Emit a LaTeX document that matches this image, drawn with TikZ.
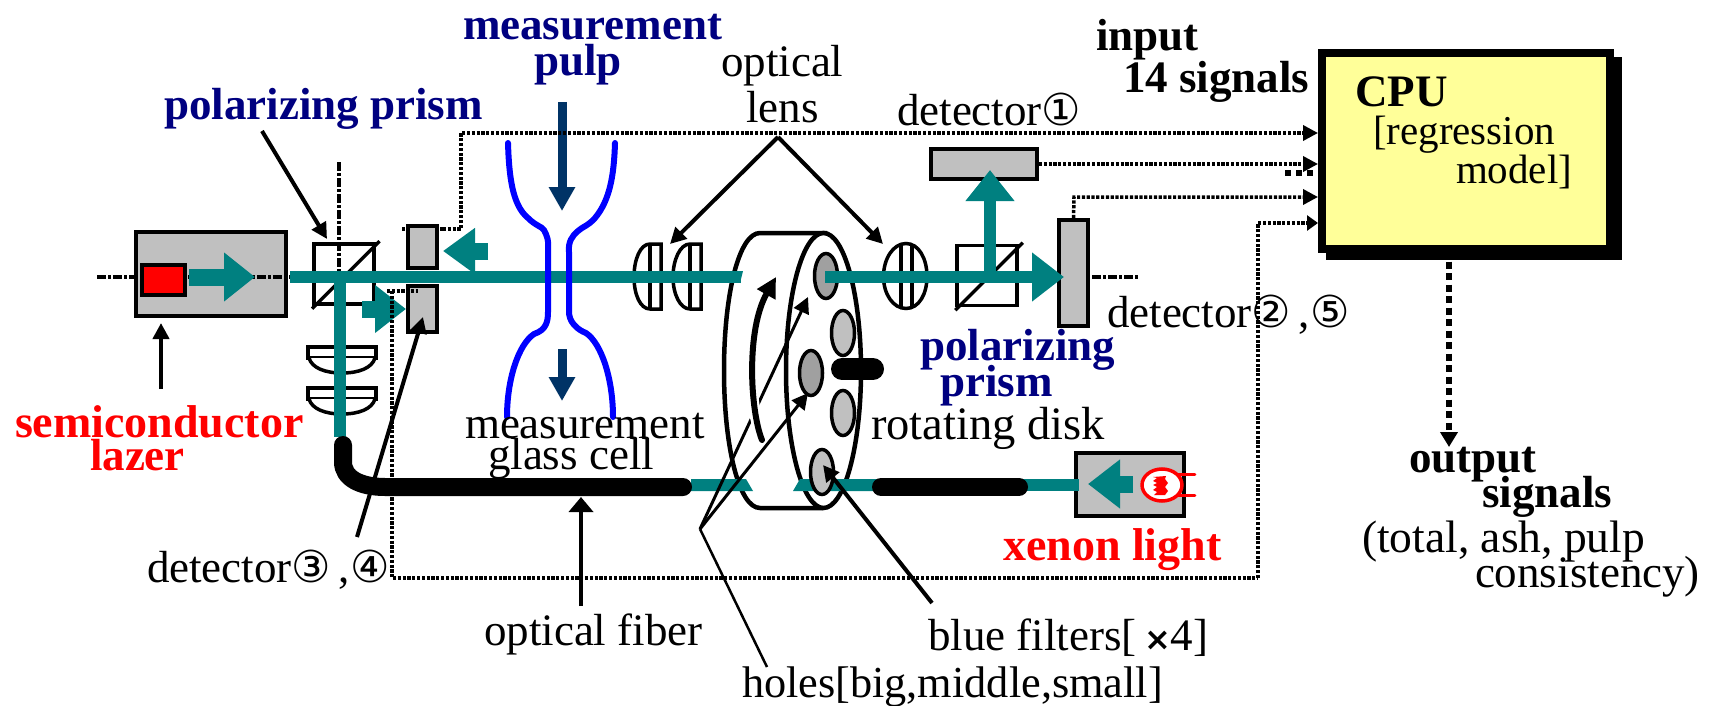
\documentclass[tikz,border=0pt]{standalone}
\usepackage{xcolor}
\usepackage{fontspec}
\setmainfont{Liberation Serif}
\newfontfamily\symfont{DejaVu Sans}
\newcommand{\circled}[1]{{\symfont\fontsize{44}{44}\selectfont #1}}
\usepackage{tikz}
\usetikzlibrary{arrows.meta,positioning,shapes.geometric,calc}
\definecolor{beamteal}{RGB}{0,128,128}
\definecolor{panelgray}{RGB}{192,192,192}
\definecolor{holegray}{RGB}{160,160,160}
\definecolor{titleblue}{RGB}{0,0,128}
\definecolor{pulpblue}{RGB}{0,51,102}
\definecolor{cpuyellow}{RGB}{255,255,153}

\begin{document}
\begin{tikzpicture}[x=1pt,y=-1pt,
lbl/.style={anchor=base west, inner sep=0pt, outer sep=0pt, font=\fontsize{45}{45}\selectfont},
lblbold/.style={lbl, font=\fontsize{45}{45}\selectfont\bfseries},
navylbl/.style={lblbold, text=titleblue},
redlbl/.style={lblbold, text=red},
graybox/.style={draw, line width=4pt, fill=panelgray, inner sep=0pt},
prismbox/.style={draw, line width=3.5pt, fill=white, inner sep=0pt, minimum size=60pt},
lens/.style={draw, line width=3.5pt, fill=white},
hole/.style={draw, ellipse, line width=3.5pt, inner sep=0pt, minimum width=23pt, minimum height=45pt, fill=panelgray},
axisline/.style={line width=3.5pt, dash pattern=on 9pt off 2pt on 3pt off 2pt},
dotline/.style={line width=3.5pt, dash pattern=on 3.2pt off 1.6pt},
sigarrow/.style={dotline, -{Triangle[length=15pt,width=15pt]}},
callout/.style={line width=4pt, -{Triangle[length=16pt,width=16pt]}},
beam/.style={line width=12pt, color=beamteal},
beamarrow/.style={line width=17pt, color=beamteal, -{Triangle[length=31pt,width=47pt]}},
fibre/.style={line width=18pt, line cap=round},
pulparrow/.style={line width=9pt, color=pulpblue, -{Triangle[length=24pt,width=25pt]}},
cell/.style={line width=6pt, color=blue, line cap=round, line join=round}
]
\useasboundingbox (0,0) rectangle (1713,706);

% light source and first prism
\coordinate (sigCw) at (402,229);
\coordinate (sigCa) at (443,229);
\draw[dotline] (sigCw) -- (sigCa);
\node[graybox, minimum width=150pt, minimum height=84pt] (laser) at (211,274) {};
\node[prismbox, right=24pt of laser] (prismL) {};
\node[graybox, minimum width=29pt, minimum height=42pt] (detC) at (422.5,247) {};
\node[graybox, minimum width=29pt, minimum height=46pt, below=14pt of detC] (detD) {};
\coordinate (axisW) at (97,277);
\coordinate (axisE) at (290,277);
\coordinate (axisN) at (339,162);
\coordinate (axisS) at (339,272);
\draw[axisline] (axisW) -- (axisE);
\draw[axisline] (axisN) -- (axisS);
\draw[line width=3.5pt] ($(prismL.south west)+(0,3)$) -- ($(prismL.north east)+(4,-1)$);
\node[draw, line width=4pt, fill=red, inner sep=0pt, minimum width=43pt, minimum height=30pt] (diode) at (163,279.5) {};

% lenses
\draw[lens] (308,347) -- (376,347) -- (376,358) -- (308,358) -- cycle;
\draw[lens] (309,358) .. controls (312,368) and (325,373) .. (342,373) .. controls (359,373) and (372,368) .. (375,358);
\draw[lens] (308,388) -- (376,388) -- (376,399) -- (308,399) -- cycle;
\draw[lens] (309,399) .. controls (312,409) and (325,414) .. (342,414) .. controls (359,414) and (372,409) .. (375,399);
\draw[lens] (661,244) -- (650,244) .. controls (640,244) and (634,260) .. (634,277) .. controls (634,294) and (640,309) .. (650,309) -- (661,309) -- cycle;
\draw[line width=3.5pt] (650,244) -- (650,309);
\draw[lens] (701,244) -- (690,244) .. controls (680,244) and (673,260) .. (673,277) .. controls (673,294) and (680,309) .. (690,309) -- (701,309) -- cycle;
\draw[line width=3.5pt] (690,244) -- (690,309);

% rotating disk
\draw[line width=4.5pt, fill=white] (827,233) -- (760,233) .. controls (739,233) and (724,294) .. (724,370.5) .. controls (724,447) and (739,508) .. (760,508) -- (823,508);
\node[draw, ellipse, line width=4.5pt, fill=white, inner sep=0pt, minimum width=75pt, minimum height=275pt] (disk) at (823.5,370.5) {};
\fill[beamteal] (691,479) -- (746,479) -- (753,491) -- (691,491) -- cycle;
\fill[beamteal] (800,479) -- (793,491) -- (877,491) -- (877,479) -- cycle;
\node[hole, fill=holegray] (holeA) at (826,276) {};
\node[hole] (holeB) at (843,333) {};
\node[hole, fill=holegray] (holeC) at (811,373) {};
\node[hole] (holeD) at (843,413) {};
\node[hole] (holeE) at (822,472) {};
\coordinate (pillW) at (842,369);
\coordinate (pillE) at (873,369);
\draw[line width=22pt, line cap=round] (pillW) -- (pillE);

% right hand optics
\draw[lens] (906,243.5) .. controls (893,243.5) and (883.5,259) .. (883.5,276.5) .. controls (883.5,294) and (893,308.5) .. (906,308.5) .. controls (919,308.5) and (927,294) .. (927,276.5) .. controls (927,259) and (919,243.5) .. (906,243.5) -- cycle;
\draw[line width=3.5pt] (901,244) -- (901,308) (912,244) -- (912,308);
\node[prismbox, minimum size=60pt] (prismR) at (987,275.5) {};
\draw[line width=3.5pt] ($(prismR.south west)+(0,3)$) -- ($(prismR.north east)+(4,-1)$);
\node[graybox, minimum width=106pt, minimum height=30pt] (detA) at (984,164) {};
\node[graybox, minimum width=29pt, minimum height=106pt] (detB) at (1073.5,273) {};
\coordinate (axisR) at (1092,277);
\coordinate (axisRend) at (1138,277);
\draw[axisline] (axisR) -- (axisRend);

% xenon lamp
\node[graybox, minimum width=108pt, minimum height=63pt] (xenon) at (1130,484.5) {};
\node[draw=red, ellipse, line width=3.5pt, fill=white, inner sep=0pt, minimum width=40pt, minimum height=32pt] (lamp) at (1162,485) {};
\fill[red] (1153,477) -- (1157,478) -- (1153,481) -- (1157,483) -- (1153,485) -- (1157,487) -- (1153,490) -- (1157,492) -- (1154,495) -- (1165,495) -- (1168,491) -- (1165,487) -- (1168,483) -- (1165,479) -- (1166,476) -- cycle;
\draw[red, line width=3pt, line cap=round] (lamp.30) ++(-2,0) -- ++(17,0);
\draw[red, line width=3pt, line cap=round] (lamp.-30) ++(-2,0) -- ++(17,0);

% CPU
\node[fill=black, inner sep=0pt, minimum width=296pt, minimum height=203pt] (cpuShadow) at (1474,158.5) {};
\node[draw, line width=8pt, fill=cpuyellow, inner sep=0pt, minimum width=288pt, minimum height=195pt] (cpu) at (1466,151) {};

% light paths
\coordinate (beamW) at (290,277);
\coordinate (beamE) at (741,277);
\coordinate (beamS) at (339.5,437);
\coordinate (beamT) at (339.5,277);
\draw[beam] (beamT) -- (beamS);
\draw[beam] (beamW) -- (beamE);
\fill[beamteal] (741,271) -- (743,271) -- (740,283) -- cycle;
\coordinate (laserW) at (189,277);
\coordinate (laserE) at (255,277);
\draw[beamarrow] (laserW) -- (laserE);
\coordinate (backE) at (488,251);
\coordinate (backW) at (443,251);
\draw[beamarrow, -{Triangle[length=32pt,width=44pt]}] (backE) -- (backW);
\coordinate (sideW) at (362,309);
\coordinate (sideE) at (406,309);
\draw[beamarrow, -{Triangle[length=31pt,width=46pt]}] (sideW) -- (sideE);
\coordinate (upS) at (990,277);
\coordinate (upN) at (990,170);
\draw[line width=12pt, color=beamteal, -{Triangle[length=31pt,width=47pt]}] (upS) -- (upN);
\coordinate (outW) at (825,277);
\coordinate (outE) at (1064,277);
\draw[beam, -{Triangle[length=32pt,width=47pt]}] (outW) -- (outE);
\coordinate (lampE) at (1133,484);
\coordinate (lampW) at (1088,484);
\draw[beamarrow, -{Triangle[length=32pt,width=47pt]}] (lampE) -- (lampW);
\coordinate (xenonW) at (1079,485);
\coordinate (xenonF) at (1020,485);
\draw[beam] (xenonW) -- (xenonF);

% fibres
\coordinate (fibreW) at (343,445);
\coordinate (fibreE) at (683,487);
\coordinate (fibreRW) at (881,487);
\coordinate (fibreRE) at (1019,487);
\draw[fibre] (fibreW) -- (343,462) .. controls (343,478) and (360,487) .. (385,487) -- (fibreE);
\draw[fibre] (fibreRW) -- (fibreRE);

% glass cell
\draw[cell] (508,143) .. controls (509,175) and (512,205) .. (528,218) .. controls (536,226) and (541,226) .. (544,230) .. controls (547,236) and (549,240) .. (548,252) -- (548,312) .. controls (548,322) and (546,330) .. (534,334) .. controls (518,345) and (507,380) .. (507,417);
\draw[cell] (615,143) .. controls (614,175) and (610,200) .. (595,218) .. controls (588,226) and (582,227) .. (578,231) .. controls (572,236) and (568,242) .. (569,252) -- (569,310) .. controls (568,322) and (578,330) .. (586,333) .. controls (602,344) and (613,380) .. (613,417);
\coordinate (pulpA) at (562,102);
\coordinate (pulpB) at (562,211);
\coordinate (pulpC) at (562,349);
\coordinate (pulpD) at (562,401);
\draw[pulparrow] (pulpA) -- (pulpB);
\draw[pulparrow] (pulpC) -- (pulpD);

% signal lines
\coordinate (sigCb) at (461,229);
\coordinate (sigCc) at (461,133);
\coordinate (sigD) at (392,578);
\coordinate (sigDs) at (392,291);
\coordinate (sigDw) at (387,291);
\coordinate (sigDe) at (418,291);
\coordinate (sigE) at (1258,578);
\coordinate (sigF) at (1258,223);
\coordinate (sigBb) at (1074,197);
\draw[sigarrow] (sigCa) -- (sigCb) -- (sigCc) -- (sigCc -| cpu.west);
\draw[sigarrow] (detA.east) -- (detA.east -| cpu.west);
\draw[line width=6pt, dash pattern=on 6pt off 5pt] (1285,173) -- (1318,173);
\draw[sigarrow] (detB.north) -- (sigBb) -- (sigBb -| cpu.west);
\draw[dotline] (sigDw) -- (sigDe);
\draw[dotline] (sigDs) -- (sigD) -- (sigE);
\draw[sigarrow, -{Triangle[length=11pt,width=15pt]}] (sigE) -- (sigF) -- (sigF -| cpu.west);
\coordinate (cpuOut) at (1449,447);
\draw[line width=6pt, dash pattern=on 7pt off 4.5pt, -{Triangle[length=15pt,width=17pt]}] (cpu.south -| cpuOut) ++(0,9) -- (cpuOut);

% callouts
\coordinate (prismCall) at (262,131);
\coordinate (prismTip) at (327,239);
\draw[callout] (prismCall) -- (prismTip);
\coordinate (laserCall) at (161,389);
\coordinate (laserTip) at (161,323);
\draw[callout] (laserCall) -- (laserTip);
\coordinate (detCall) at (357,537);
\coordinate (detTip) at (423,317);
\draw[callout] (detCall) -- (detTip);
\coordinate (lensApex) at (778,137);
\coordinate (lensTipL) at (670,244);
\coordinate (lensTipR) at (883,244);
\draw[callout] (lensApex) -- (lensTipL);
\draw[callout] (lensApex) -- (lensTipR);
\coordinate (fibreCall) at (581,606);
\coordinate (fibreTip) at (581,497);
\draw[callout, -{Triangle[length=15pt,width=24pt]}] (fibreCall) -- (fibreTip);
\coordinate (holeApex) at (700,529);
\coordinate (holeTipA) at (808,297);
\coordinate (holeTipB) at (808,393);
\coordinate (holeEnd) at (767,667);
\draw[callout, line width=3pt] (holeApex) -- (holeTipA);
\draw[callout, line width=3pt] (holeApex) -- (holeTipB);
\draw[line width=2.5pt] (holeApex) -- (holeEnd);
\coordinate (rotS) at (762,440);
\coordinate (rotN) at (776,277);
\draw[white, line width=12pt] (758,425) .. controls (754,410) and (752,400) .. (752,385);
\draw[line width=6pt, line cap=round, -{Triangle[length=20pt,width=20pt]}] (rotS) .. controls (750,410) and (746,330) .. (rotN);
\coordinate (filterCall) at (932,603);
\coordinate (filterTip) at (823,465);
\draw[callout] (filterCall) -- (filterTip);

% labels
\node[navylbl] (measTop) at (463,40) {measurement};
\node[navylbl] (pulpTop) at (534,76) {pulp};
\node[navylbl] (prismTop) at (164,120) {polarizing prism};
\node[lbl] (opticalTxt) at (721,77) {optical};
\node[lbl] (lensTxt) at (746,123) {lens};
\node[lblbold] (inputTxt) at (1096,51) {input};
\node[lblbold] (sigTxt) at (1123,93) {14 signals};
\node[lbl] (detAtxt) at (897,126) {detector\circled{①}};
\node[lbl] (detBtxt) at (1107,327) {detector\circled{②}\,,\circled{⑤}};
\node[navylbl] (prismRtxt) at (920,360) {polarizing};
\node[navylbl] (prismRtxtb) at (940,396) {prism};
\node[lbl, font=\fontsize{46.5}{46}\selectfont] (rotTxt) at (871,439) {rotating disk};
\node[redlbl, font=\fontsize{46}{46}\selectfont\bfseries] (semiTxt) at (15,437) {semiconductor};
\node[redlbl] (lazerTxt) at (90,470) {lazer};
\node[lbl] (measTxt) at (465,438) {measurement};
\node[lbl] (glassTxt) at (488,469) {glass cell};
\node[redlbl, font=\fontsize{46}{46}\selectfont\bfseries] (xenonTxt) at (1003,560) {xenon light};
\node[lbl] (detCtxt) at (147,582) {detector\circled{③}\,,\circled{④}};
\node[lbl] (fibreTxt) at (484,645) {optical fiber};
\node[lbl] (filterTxt) at (928,650) {blue filters[\,{\symfont\bfseries\fontsize{32}{32}\selectfont ×}4]};
\node[lbl, font=\fontsize{44.3}{44}\selectfont] (holeTxt) at (742,697) {holes[big,middle,small]};
\node[lblbold] (outTxt) at (1409,472) {output};
\node[lblbold] (signalTxt) at (1482,507) {signals};
\node[lbl, font=\fontsize{45.5}{46}\selectfont] (totalTxt) at (1362,552) {(total, ash, pulp};
\node[lbl] (consTxt) at (1475,587) {consistency)};
\node[lblbold] (cpuTxt) at (1355,107) {CPU};
\node[lbl, font=\fontsize{41}{41}\selectfont] (regTxt) at (1373,145) {[regression};
\node[lbl, font=\fontsize{41}{41}\selectfont] (modelTxt) at (1456,183) {model]};
\end{tikzpicture}
\end{document}
